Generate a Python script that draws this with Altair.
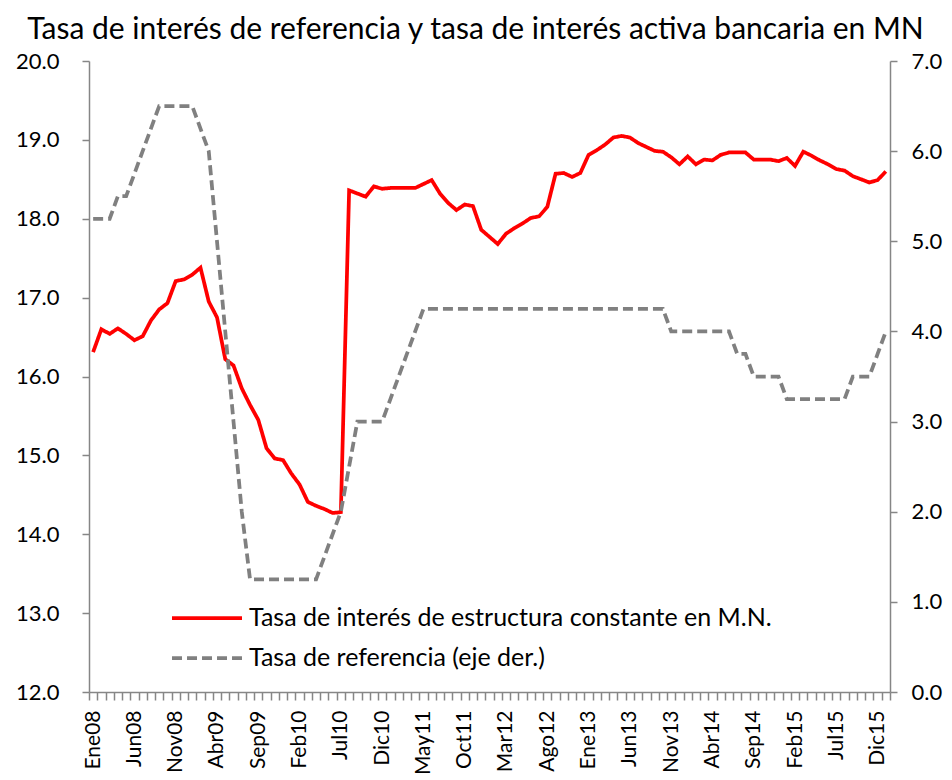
import altair as alt
import pandas as pd

# ---- data ----
months = ["Ene", "Feb", "Mar", "Abr", "May", "Jun", "Jul", "Ago", "Sep", "Oct", "Nov", "Dic"]
years = ["08", "09", "10", "11", "12", "13", "14", "15", "16"]

tasa_activa = [
    16.31, 16.60, 16.54, 16.61, 16.54, 16.46, 16.51, 16.71, 16.85, 16.93, 17.21, 17.23,
    17.29, 17.38, 16.95, 16.75, 16.22, 16.14, 15.85, 15.64, 15.45, 15.09, 14.96, 14.94,
    14.77, 14.63, 14.41, 14.36, 14.32, 14.27, 14.28, 18.36, 18.32, 18.28, 18.41, 18.38,
    18.39, 18.39, 18.39, 18.39, 18.44, 18.49, 18.32, 18.20, 18.11, 18.18, 18.16, 17.86,
    17.77, 17.68, 17.81, 17.88, 17.94, 18.01, 18.03, 18.15, 18.57, 18.58, 18.53, 18.58,
    18.81, 18.87, 18.94, 19.03, 19.05, 19.03, 18.96, 18.91, 18.86, 18.85, 18.78, 18.69,
    18.79, 18.69, 18.75, 18.74, 18.81, 18.84, 18.84, 18.84, 18.75, 18.75, 18.75, 18.73,
    18.77, 18.67, 18.85, 18.80, 18.74, 18.69, 18.63, 18.61, 18.54, 18.50, 18.46, 18.49,
    18.60,
]

tasa_referencia = [
    5.25, 5.25, 5.25, 5.50, 5.50, 5.75, 6.00, 6.25, 6.50, 6.50, 6.50, 6.50,
    6.50, 6.25, 6.00, 5.00, 4.00, 3.00, 2.00, 1.25, 1.25, 1.25, 1.25, 1.25,
    1.25, 1.25, 1.25, 1.25, 1.50, 1.75, 2.00, 2.50, 3.00, 3.00, 3.00, 3.00,
    3.25, 3.50, 3.75, 4.00, 4.25, 4.25, 4.25, 4.25, 4.25, 4.25, 4.25, 4.25,
    4.25, 4.25, 4.25, 4.25, 4.25, 4.25, 4.25, 4.25, 4.25, 4.25, 4.25, 4.25,
    4.25, 4.25, 4.25, 4.25, 4.25, 4.25, 4.25, 4.25, 4.25, 4.25, 4.00, 4.00,
    4.00, 4.00, 4.00, 4.00, 4.00, 4.00, 3.75, 3.75, 3.50, 3.50, 3.50, 3.50,
    3.25, 3.25, 3.25, 3.25, 3.25, 3.25, 3.25, 3.25, 3.50, 3.50, 3.50, 3.75,
    4.00,
]

S1 = "Tasa de interés de estructura constante en M.N."
S2 = "Tasa de referencia (eje der.)"
TITLE = "Tasa de interés de referencia y tasa de interés activa bancaria en MN"

n = len(tasa_activa)
labels = [m + y for y in years for m in months][:n]

df = pd.DataFrame({
    "idx": list(range(n)) * 2,
    "label": labels * 2,
    "series": [S1] * n + [S2] * n,
    "value": tasa_activa + tasa_referencia,
})

FONT = "Lato"
bounds = [i - 0.5 for i in range(n + 1)]
label_arr = "[" + ",".join("'" + l + "'" for l in labels) + "]"
label_expr = (
    "((datum.value + 0.5) % 5 == 0 && (datum.value + 0.5) < " + str(n) + ") ? "
    + label_arr + "[datum.value + 0.5] : ''"
)

xenc = alt.X(
    "idx:Q",
    scale=alt.Scale(domain=[-0.5, n - 0.5], nice=False, zero=False),
    axis=alt.Axis(
        values=bounds, labelExpr=label_expr, labelAngle=-90, labelOffset=4.1,
        tickSize=8, labelPadding=10, labelFontSize=21, labelOverlap=False,
        labelFlush=False, labelBound=False, title=None,
    ),
)

legend = alt.Legend(
    orient="none", legendX=104, legendY=543, title=None,
    symbolType="M-3,0H3", symbolSize=544, symbolStrokeWidth=3.75,
    labelFontSize=25, labelFont=FONT, labelColor="black", labelOffset=28,
    rowPadding=13, padding=0, labelLimit=800,
)

color = alt.Color("series:N", scale=alt.Scale(domain=[S1, S2], range=["#FF0000", "#808080"]), legend=legend)
dash = alt.StrokeDash("series:N", scale=alt.Scale(domain=[S1, S2], range=[[1, 0], [10, 5]]), legend=legend)

red = alt.Chart(df).transform_filter(alt.datum.series == S1).mark_line(strokeWidth=3.75).encode(
    x=xenc,
    y=alt.Y(
        "value:Q",
        scale=alt.Scale(domain=[12, 20], nice=False, zero=False),
        axis=alt.Axis(values=list(range(12, 21)), format=".1f", tickSize=7,
                      labelPadding=23, labelFontSize=22, title=None, orient="left"),
    ),
    color=color,
    strokeDash=dash,
)

gray = alt.Chart(df).transform_filter(alt.datum.series == S2).mark_line(strokeWidth=3.75).encode(
    x=xenc,
    y=alt.Y(
        "value:Q",
        scale=alt.Scale(domain=[0, 7], nice=False, zero=False),
        axis=alt.Axis(values=list(range(0, 8)), format=".1f", tickSize=7,
                      labelPadding=14, labelFontSize=22, title=None, orient="right"),
    ),
    color=color,
    strokeDash=dash,
)

chart = (
    alt.layer(red, gray)
    .resolve_scale(y="independent")
    .properties(
        width=801, height=631,
        title=alt.TitleParams(TITLE, font=FONT, fontSize=30, fontWeight="normal",
                              color="black", anchor="middle", dx=-14, offset=5),
        autosize=alt.AutoSizeParams(type="none"),
        padding={"left": 81, "top": 53, "right": 54, "bottom": 82},
    )
    .configure_view(stroke=None)
    .configure_axis(
        labelFont=FONT, labelColor="black", domainColor="#868686", tickColor="#868686",
        domainWidth=1.5, tickWidth=1.5, grid=False,
    )
)

chart.save("out.html", embed_options={"renderer": "svg", "actions": False})
